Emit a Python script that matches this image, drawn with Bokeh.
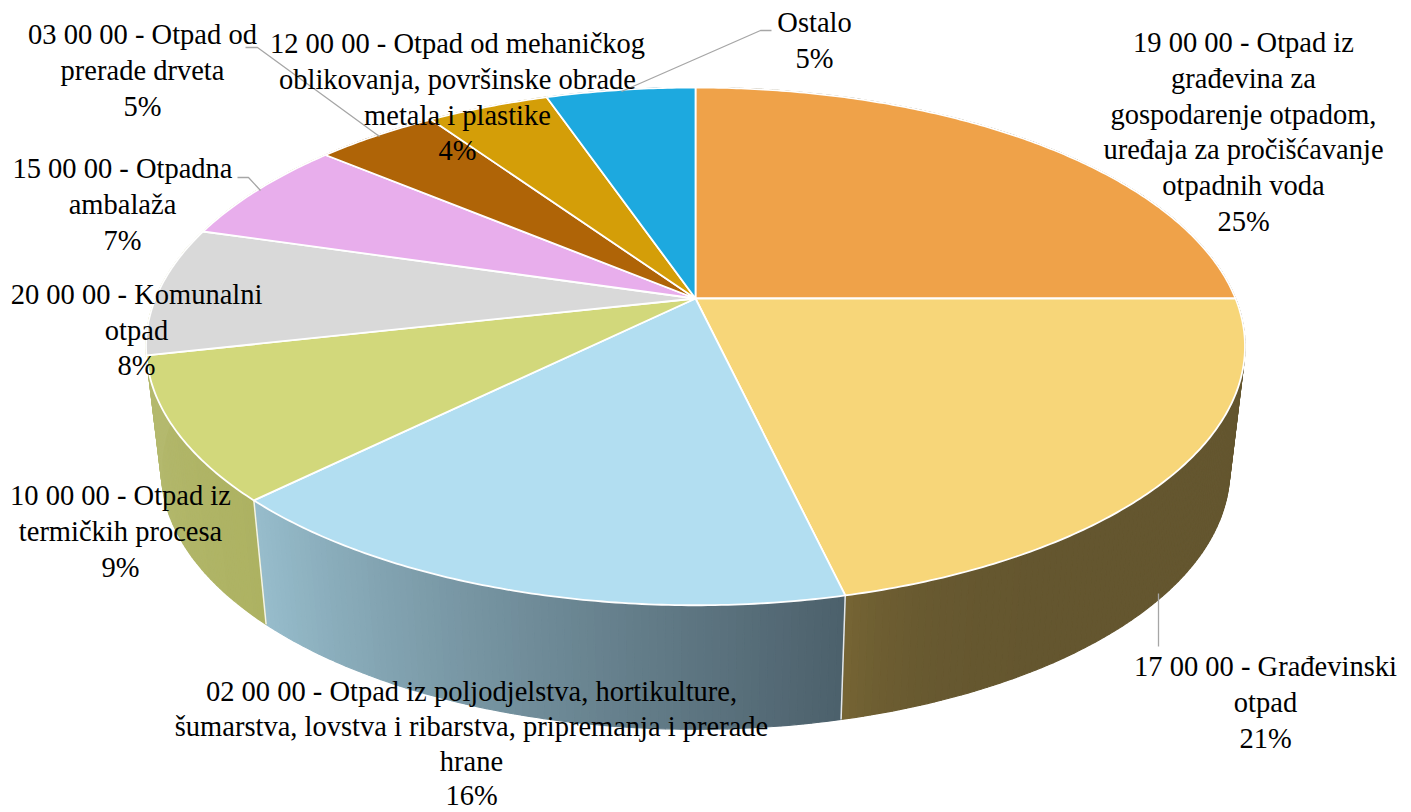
import math
from bokeh.plotting import figure
from bokeh.embed import file_html
from bokeh.resources import INLINE
from bokeh.core.properties import value

# Data: share of each waste group (percent), clockwise from 12 o'clock
codes = ["19 00 00", "17 00 00", "02 00 00", "10 00 00", "20 00 00", "15 00 00", "03 00 00", "12 00 00", "Ostalo"]
shares = [25.0, 21.35, 16.25, 8.9, 8.05, 6.55, 4.35, 4.3, 5.25]
percent_labels = ["25%", "21%", "16%", "9%", "8%", "7%", "5%", "4%", "5%"]
label_lines = [
    ["19 00 00 - Otpad iz", "građevina za", "gospodarenje otpadom,", "uređaja za pročišćavanje", "otpadnih voda"],
    ["17 00 00 - Građevinski", "otpad"],
    ["02 00 00 - Otpad iz poljodjelstva, hortikulture,", "šumarstva, lovstva i ribarstva, pripremanja i prerade", "hrane"],
    ["10 00 00 - Otpad iz", "termičkih procesa"],
    ["20 00 00 - Komunalni", "otpad"],
    ["15 00 00 - Otpadna", "ambalaža"],
    ["03 00 00 - Otpad od", "prerade drveta"],
    ["12 00 00 - Otpad od mehaničkog", "oblikovanja, površinske obrade", "metala i plastike"],
    ["Ostalo"],
]
top_colors = ["#EFA249", "#F7D679", "#B2DEF1", "#D2D87B", "#D9D9D9", "#E8AEEC", "#AF6407", "#D49E08", "#1DA9DF"]
wall_start = ["#64562F", "#64562F", "#4C606B", "#ADB262", "#B4B96E", "#B4B96E", "#7A4605", "#956F06", "#14769C"]
wall_end = ["#64562F", "#766534", "#97BDCC", "#B4B96E", "#B4B96E", "#B4B96E", "#7A4605", "#956F06", "#14769C"]
wall_gamma = [1, 14, 1, 1, 1, 1, 1, 1, 1]

# Layout of the perspective pie (pixels of the page)
CX, CY, A, B, K = 695.0, 298.0, 540.0, 250.0, 0.185
CX2, CY2, A2, B2, K2 = 695.0, 422.0, 525.0, 250.0, 0.185
# centre x, first-line centre y and line spacing of each label block
label_pos = [(1243, 42, 35.8), (1265, 666, 35.8), (471, 691, 34.8), (120, 495, 35.8), (136, 294, 35.6),
             (122, 168, 35.8), (142, 34, 35.8), (457, 43, 35.8), (814, 22, 35.8)]


def top(t):
    d = 1 + K * math.cos(t)
    return CX + A * math.sin(t) / d, CY - B * math.cos(t) / d


def bottom(t):
    d = 1 + K2 * math.cos(t)
    return CX2 + A2 * math.sin(t) / d, CY2 - B2 * math.cos(t) / d


def mix(c1, c2, f):
    a = [int(c1[i:i + 2], 16) for i in (1, 3, 5)]
    b = [int(c2[i:i + 2], 16) for i in (1, 3, 5)]
    return "#%02x%02x%02x" % tuple(round(x + (y - x) * f) for x, y in zip(a, b))


p = figure(width=1411, height=812, x_range=(0, 1411), y_range=(812, 0),
           toolbar_location=None, output_backend="svg", min_border=0,
           x_axis_location=None, y_axis_location=None)
p.grid.visible = False
p.outline_line_color = None
p.background_fill_color = "white"

total = sum(shares)
edges = [0.0]
for s in shares:
    edges.append(edges[-1] + s / total * 2 * math.pi)

# walls, strip by strip so that the shading runs along the rim
for i in range(len(shares)):
    t0, t1 = edges[i], edges[i + 1]
    n = max(4, int((t1 - t0) / 0.012))
    for j in range(n):
        a0 = t0 + (t1 - t0) * j / n
        a1 = t0 + (t1 - t0) * (j + 1) / n
        (x0, y0), (x1, y1) = top(a0), top(a1)
        (x2, y2), (x3, y3) = bottom(a1), bottom(a0)
        c = mix(wall_start[i], wall_end[i], ((j + 0.5) / n) ** wall_gamma[i])
        p.patch([x0, x1, x2, x3], [y0, y1, y2, y3], fill_color=c, line_color=c, line_width=1.2)

# wall separators
for i in (2, 3):
    (x0, y0), (x1, y1) = top(edges[i]), bottom(edges[i])
    p.line([x0, x1], [y0, y1], line_color="white", line_width=1.5, line_alpha=0.85)

# top faces
for i in range(len(shares)):
    t0, t1 = edges[i], edges[i + 1]
    n = max(8, int((t1 - t0) / 0.01))
    pts = [top(t0 + (t1 - t0) * j / n) for j in range(n + 1)]
    p.patch([CX] + [q[0] for q in pts], [CY] + [q[1] for q in pts],
            fill_color=top_colors[i], line_color="white", line_width=1.8, line_join="round")

# leader lines
GREY = "#A6A6A6"
leaders = [
    ([245, 257, 379], [47, 47, 136]),
    ([237, 248, 260], [177, 177, 190]),
    ([621, 760, 771], [91, 30, 30]),
    ([1158, 1158], [593, 646]),
]
for xs, ys in leaders:
    p.line(xs, ys, line_color=GREY, line_width=1.3)

# labels
for i, lines in enumerate(label_lines):
    cx, cy, lh = label_pos[i]
    all_lines = lines + [percent_labels[i]]
    p.text([cx] * len(all_lines), [cy + k * lh for k in range(len(all_lines))], text=all_lines,
           text_font=value("Liberation Serif"), text_font_size="28.5px", text_color="#000000",
           text_align="center", text_baseline="middle")

open("out.html", "w").write(file_html(p, INLINE))
